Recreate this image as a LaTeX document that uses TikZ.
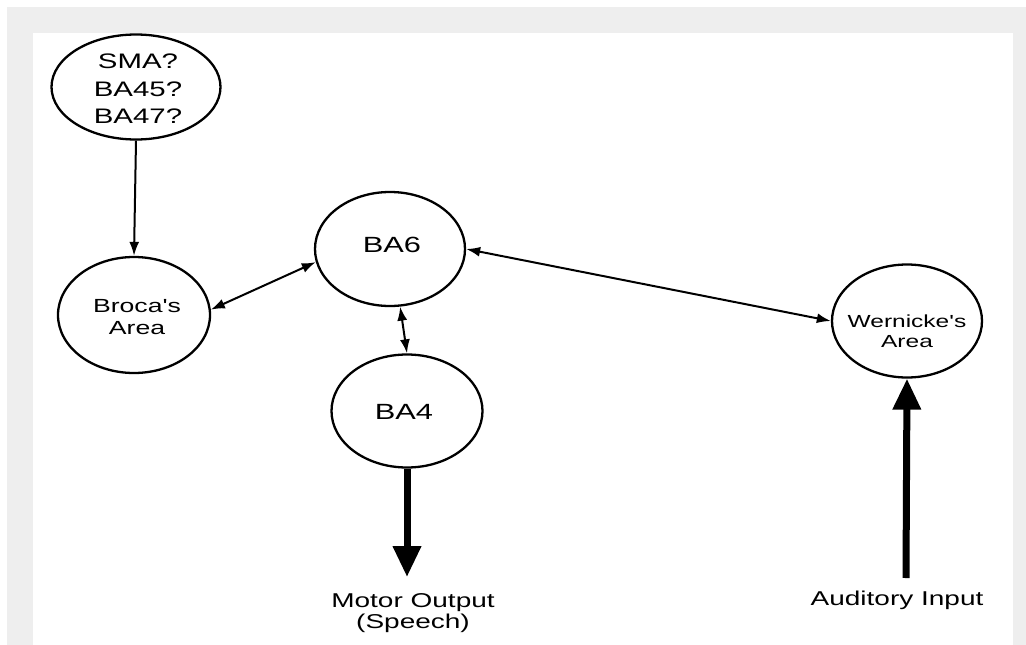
\documentclass[tikz,border=0pt]{standalone}
\usepackage{fontspec}
\usetikzlibrary{shapes.geometric,arrows.meta}
\newfontfamily\lab[FakeStretch=1.4]{Liberation Sans}
\definecolor{bgrey}{HTML}{EEEEEE}
\tikzset{
  area/.style={ellipse, draw=black, line width=2.3pt, fill=white, inner sep=0pt},
  thin arrow/.style={line width=2pt, {Latex[length=14pt,width=10pt]}-{Latex[length=14pt,width=10pt]}},
  one arrow/.style={line width=2pt, -{Latex[length=14pt,width=10pt]}},
  thick arrow/.style={line width=7pt, -{Triangle[length=31pt,width=27pt]}},
  lbl/.style={align=center, inner sep=0pt, text=black}
}
\begin{document}
\begin{tikzpicture}[x=1pt,y=-1pt]
\useasboundingbox (0,0) rectangle (1026,645);
\fill[white] (0,0) rectangle (1026,645);
\fill[bgrey] (7,7) rectangle (1026,645);
\fill[white] (33,33) rectangle (1013,645);

\node[area, minimum width=169pt, minimum height=105pt] (sma) at (136,87) {};
\node[lbl, font=\lab\fontsize{21}{27.5}\selectfont] (smat) at (138,89) {SMA?\\BA45?\\BA47?};

\node[area, minimum width=152pt, minimum height=116pt] (broca) at (134,315) {};
\node[lbl, font=\lab\fontsize{19}{22}\selectfont] (brocat) at (137,317) {Broca's\\Area};

\node[area, minimum width=150pt, minimum height=114pt] (ba6) at (390,249) {};
\node[lbl, font=\lab\fontsize{22}{26}\selectfont] (ba6t) at (392,245) {BA6};

\node[area, minimum width=151pt, minimum height=113pt] (ba4) at (407,411) {};
\node[lbl, font=\lab\fontsize{22}{26}\selectfont] (ba4t) at (404,412) {BA4};

\node[area, minimum width=150pt, minimum height=113pt] (wer) at (907,321) {};
\node[lbl, font=\lab\fontsize{17.5}{20}\selectfont] (wert) at (907,331) {Wernicke's\\Area};

\coordinate (motor) at (407,577);
\coordinate (aud) at (906,578);
\node[lbl, font=\lab\fontsize{20}{21}\selectfont] (motort) at (413,613) {Motor Output\\(Speech)};
\node[lbl, font=\lab\fontsize{20}{24}\selectfont] (audt) at (897,600) {Auditory Input};

\draw[one arrow] (sma.south) -- (broca.north);
\draw[thin arrow] (broca.4) -- (ba6.190);
\draw[thin arrow] (ba6.east) -- (wer.west);
\draw[thin arrow] (ba6.280) -- (ba4.north);
\draw[thick arrow] (ba4.south) -- (motor);
\draw[thick arrow] (aud) -- (wer.south);
\end{tikzpicture}
\end{document}
